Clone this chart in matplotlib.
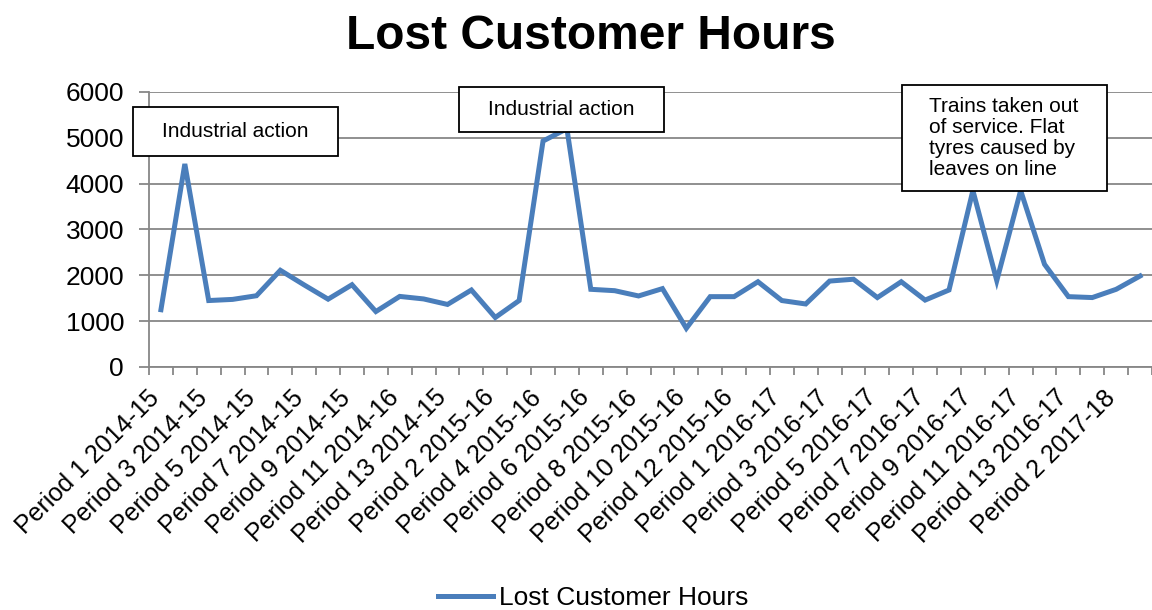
import matplotlib.pyplot as plt
from matplotlib.patches import Rectangle
from matplotlib.transforms import ScaledTranslation

plt.rcParams['font.family'] = ['Liberation Sans', 'DejaVu Sans']

# data
years = ["2014-15"] * 13 + ["2015-16"] * 13 + ["2016-17"] * 13 + ["2017-18"] * 3
periods = list(range(1, 14)) * 3 + [1, 2, 3]
categories = ["Period %d %s" % (p, y) for p, y in zip(periods, years)]
categories[10] = "Period 11 2014-16"  # as printed on the original

lost_hours = [1250, 4430, 1450, 1475, 1555, 2110, 1790, 1480, 1795, 1210,
              1540, 1485, 1365, 1680, 1080, 1450, 4930, 5200, 1695, 1665,
              1550, 1710, 845, 1535, 1535, 1860, 1450, 1375, 1875, 1915,
              1515, 1860, 1460, 1680, 3850, 1885, 3850, 2240, 1535, 1515,
              1695, 1985]

notes = ["Industrial action", "Industrial action",
         "Trains taken out\nof service. Flat\ntyres caused by\nleaves on line"]
# note boxes in pixels: left, top, width, height
note_boxes = [(133, 107, 205, 49), (459, 87, 205, 45), (902, 85, 205, 106)]

W, H = 1152, 610
fig = plt.figure(figsize=(W / 100, H / 100), dpi=100)
ax = fig.add_axes([149 / W, 1 - 367 / H, 1 - 149 / W, 275 / H])

x = list(range(len(lost_hours)))
ax.plot(x, lost_hours, color='#4A7EBB', lw=3.6, solid_joinstyle='miter',
        label='Lost Customer Hours', zorder=3)

grey = '#878787'
ax.set_ylim(0, 6000)
ax.set_yticks(range(0, 6001, 1000))
ax.set_xlim(-0.5, len(x) - 0.5 - 5 / 24)
ax.yaxis.grid(True, color=grey, lw=1.3)
ax.set_axisbelow(True)
for s in ['top', 'right']:
    ax.spines[s].set_visible(False)
for s in ['left', 'bottom']:
    ax.spines[s].set_color(grey)
    ax.spines[s].set_linewidth(1.3)

ax.set_xticks(x[::2])
ax.set_xticklabels(categories[::2], rotation=45, ha='right', va='baseline',
                   rotation_mode='anchor', fontsize=18)
# nudge the slanted labels a little to the right, like the original
shift = ScaledTranslation(6 / 100, 0, fig.dpi_scale_trans)
for lab in ax.get_xticklabels():
    lab.set_transform(lab.get_transform() + shift)
ax.set_xticks([i - 0.5 for i in range(len(x) + 1)], minor=True)
ax.tick_params(axis='x', which='major', length=0, pad=23)
ax.tick_params(axis='x', which='minor', length=6, width=1.3, color=grey)
ax.tick_params(axis='y', length=7, width=1.3, color=grey, labelsize=19, pad=11)

fig.text(591 / W, 1 - 49 / H, "Lost Customer Hours", ha='center',
         va='baseline', fontsize=34.5, fontweight='bold')

for (l, t, w, h), txt in zip(note_boxes, notes):
    fig.patches.append(Rectangle((l / W, 1 - (t + h) / H), w / W, h / H,
                                 transform=fig.transFigure, facecolor='white',
                                 edgecolor='black', lw=1.3, zorder=5))
    if '\n' in txt:
        fig.text((l + 27) / W, 1 - (t + h / 2) / H, txt, ha='left',
                 va='center', fontsize=15, linespacing=1.15, zorder=6)
    else:
        fig.text((l + w / 2) / W, 1 - (t + h / 2) / H, txt, ha='center',
                 va='center', fontsize=15, zorder=6)

fig.legend(loc='center', bbox_to_anchor=(593 / W, 1 - 598 / H), frameon=False,
           fontsize=19, handlelength=2.1, handletextpad=0.2)

fig.savefig('out.png', dpi=100)
